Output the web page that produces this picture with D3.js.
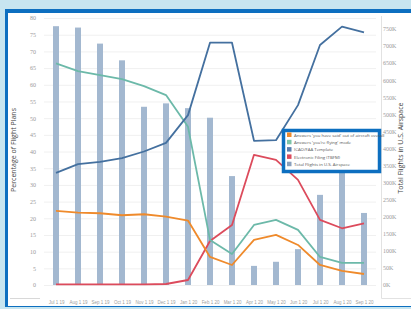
<!DOCTYPE html>
<html>
<head>
<meta charset="utf-8">
<script src="https://cdn.jsdelivr.net/npm/d3@7"></script>
<style>
  html, body { margin: 0; padding: 0; background: #c7e5f0; }
  svg { display: block; font-family: "Open Sans", "DejaVu Sans", sans-serif; }
</style>
</head>
<body>
<div id="chart"></div>
<script>
// data
var months = ["Jul 1 19", "Aug 1 19", "Sep 1 19", "Oct 1 19", "Nov 1 19", "Dec 1 19", "Jan 1 20",
              "Feb 1 20", "Mar 1 20", "Apr 1 20", "May 1 20", "Jun 1 20", "Jul 1 20", "Aug 1 20", "Sep 1 20"];
var totalFlights = [758000, 754000, 707000, 658000, 522000, 532000, 518000,
                    490000, 319000, 56000, 68000, 105000, 264000, 380000, 211000];
var orangeSeries = [22.2, 21.7, 21.5, 20.9, 21.2, 20.5, 19.3, 8.4, 6.0, 13.5, 15.0, 12.0, 6.0, 4.2, 3.3];
var tealSeries   = [66.4, 64.1, 62.9, 61.7, 59.6, 56.9, 47.4, 13.5, 9.3, 18.0, 19.5, 16.5, 8.4, 6.6, 6.6];
var blueSeries   = [33.6, 36.2, 36.9, 38.0, 40.0, 42.6, 50.9, 72.6, 72.6, 43.2, 43.4, 53.9, 71.9, 77.4, 75.7];
var redSeries    = [0.2, 0.2, 0.2, 0.2, 0.2, 0.3, 1.5, 13.2, 18.0, 39.0, 37.5, 31.5, 19.5, 17.0, 18.5];
var leftTicks = d3.range(0, 81, 5);
var rightTicks = d3.range(0, 750001, 50000);
var legendNames = ["Answers 'you have said' out of aircraft overall", "Answers 'you're flying' mode",
                   "ICAO/FAA Template", "Electronic Filing (TBFM)", "Total Flights in U.S. Airspace"];

var W = 411, H = 309;
var svg = d3.select("#chart").append("svg").attr("width", W).attr("height", H);

// frame
svg.append("rect").attr("x", 0).attr("y", 0).attr("width", W).attr("height", H).attr("fill", "#c7e5f0");
svg.append("rect").attr("x", 5).attr("y", 9).attr("width", W + 10).attr("height", 298).attr("fill", "#0d6fc0");
svg.append("rect").attr("x", 8).attr("y", 13).attr("width", W).attr("height", 293).attr("fill", "#ffffff");

var x = d3.scalePoint().domain(months).range([56, 364]);
var yL = d3.scaleLinear().domain([0, 80]).range([285, 18]);
var yR = d3.scaleLinear().domain([0, 782000]).range([285, 18]);

// grid
svg.append("g").selectAll("line").data(leftTicks).join("line")
  .attr("x1", 44).attr("x2", 376)
  .attr("y1", function(d){ return yL(d) + 0.5; }).attr("y2", function(d){ return yL(d) + 0.5; })
  .attr("stroke", "#f0f0f0").attr("stroke-width", 1);

// pane borders
svg.append("path").attr("d", "M10,298.5H40").attr("stroke", "#d8d8d8").attr("fill", "none");
svg.append("path").attr("d", "M381.5,16V298.5H411").attr("stroke", "#e2e2e2").attr("fill", "none");

// bars
svg.append("g").selectAll("rect").data(totalFlights).join("rect")
  .attr("x", function(d, i){ return x(months[i]) - 3; })
  .attr("y", function(d){ return yR(d); })
  .attr("width", 6)
  .attr("height", function(d){ return yR(0) - yR(d); })
  .attr("fill", "#a3b8d0");

// lines
var line = d3.line().x(function(d, i){ return x(months[i]); }).y(function(d){ return yL(d); });
var series = [
  { values: redSeries, color: "#dc4b5c" },
  { values: orangeSeries, color: "#ef8a2b" },
  { values: tealSeries, color: "#6cb9a9" },
  { values: blueSeries, color: "#44709f" }
];
svg.append("g").selectAll("path").data(series).join("path")
  .attr("d", function(s){ return line(s.values); })
  .attr("fill", "none").attr("stroke", function(s){ return s.color; })
  .attr("stroke-width", 1.8).attr("stroke-linejoin", "round");

// left axis
var gl = svg.append("g").attr("transform", "translate(36,0)")
  .call(d3.axisLeft(yL).tickValues(leftTicks).tickSize(0).tickPadding(0));
gl.select(".domain").remove();
gl.selectAll("text").attr("fill", "#9a9a9a").attr("font-size", 6).attr("font-family", "Liberation Serif, serif");

// right axis
var gr = svg.append("g").attr("transform", "translate(383,0)")
  .call(d3.axisRight(yR).tickValues(rightTicks).tickSize(0).tickPadding(0)
    .tickFormat(function(d){ return (d / 1000) + "K"; }));
gr.select(".domain").remove();
gr.selectAll("text").attr("fill", "#9a9a9a").attr("font-size", 6).attr("font-family", "Liberation Serif, serif");

// x axis labels
var gx = svg.append("g").attr("transform", "translate(0,303)")
  .call(d3.axisBottom(x).tickSize(0).tickPadding(0));
gx.select(".domain").remove();
gx.selectAll("text").attr("fill", "#a0a0a0").attr("font-size", 4.5).attr("dy", "0.3em");

// axis titles
svg.append("text").attr("transform", "translate(16,150) rotate(-90)")
  .attr("text-anchor", "middle").attr("font-size", 7).attr("fill", "#444")
  .text("Percentage of Flight Plans");
svg.append("text").attr("transform", "translate(403,148) rotate(-90)")
  .attr("text-anchor", "middle").attr("font-size", 7).attr("fill", "#444")
  .text("Total Flights in U.S. Airspace");

// legend
var legendColors = ["#ef8a2b", "#7cc4a8", "#5a7fae", "#dc4b5c", "#8aa0bd"];
var lg = svg.append("g");
lg.append("rect").attr("x", 283.5).attr("y", 130.5).attr("width", 96).attr("height", 41)
  .attr("fill", "#fff").attr("stroke", "#0d6fc0").attr("stroke-width", 3.5);
var items = lg.selectAll("g").data(legendNames).join("g")
  .attr("transform", function(d, i){ return "translate(287," + (135 + i * 7.3) + ")"; });
items.append("rect").attr("x", 0).attr("y", -2.5).attr("width", 4.5).attr("height", 4.5)
  .attr("fill", function(d, i){ return legendColors[i]; });
items.append("text").attr("x", 7).attr("y", 1.6).attr("font-size", 4.3).attr("fill", "#555")
  .text(function(d){ return d; });
</script>
</body>
</html>
